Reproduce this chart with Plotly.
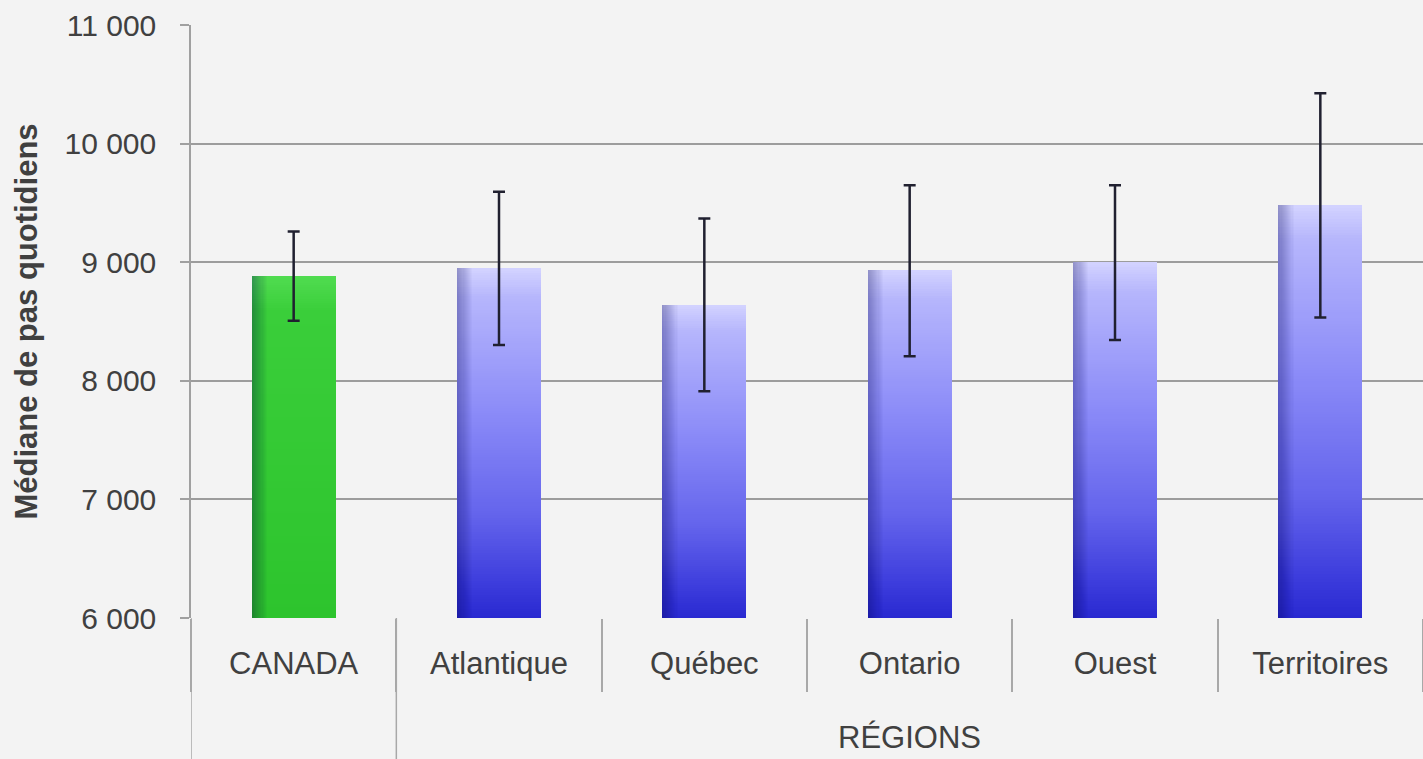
import plotly.graph_objects as go

# ---- data ----
categories = ["CANADA", "Atlantique", "Québec", "Ontario", "Ouest", "Territoires"]
medians = [8885, 8947, 8641, 8933, 8998, 9481]
upper = [9259, 9593, 9368, 9649, 9649, 10425]
lower = [8506, 8301, 7911, 8206, 8344, 8534]
group_label = "RÉGIONS"
y_ticks = [6000, 7000, 8000, 9000, 10000, 11000]
y_tick_text = ["6 000", "7 000", "8 000", "9 000", "10 000", "11 000"]
y_title = "Médiane de pas quotidiens"

BASE = 6000
FONT = "Liberation Sans, Arial, sans-serif"
TXT = "#404040"
GRID = "#9c9c9c"
BG = "#f3f3f3"

# gradient stops (t = 0 at top of bar, 1 at bottom)
blue_stops = [(0.0, (210, 210, 255)), (0.08, (182, 182, 252)), (0.4, (140, 140, 248)),
              (0.7, (100, 100, 236)), (0.9, (60, 60, 220)), (1.0, (40, 40, 208))]
green_stops = [(0.0, (80, 220, 80)), (0.1, (58, 206, 58)), (1.0, (45, 196, 45))]


def interp(stops, t):
    for (t0, c0), (t1, c1) in zip(stops[:-1], stops[1:]):
        if t0 <= t <= t1:
            f = (t - t0) / (t1 - t0) if t1 > t0 else 0
            c = [round(a + (b - a) * f) for a, b in zip(c0, c1)]
            return f"rgb({c[0]},{c[1]},{c[2]})"
    c = stops[-1][1]
    return f"rgb({c[0]},{c[1]},{c[2]})"


fig = go.Figure()

N = 150
BAR_W = 0.41
for k in range(N):
    t = k / N
    heights = [(v - BASE) * (1 - t) for v in medians]
    colors = [interp(green_stops if i == 0 else blue_stops, t) for i in range(len(categories))]
    fig.add_trace(go.Bar(
        x=categories, y=heights, base=[BASE] * len(categories),
        width=BAR_W, marker=dict(color=colors, line=dict(width=0)),
        hoverinfo="skip", showlegend=False,
    ))

# smooth left-edge shading for a bevelled look
M = 14
for j in range(M):
    w = 0.075 * (M - j) / M
    fig.add_trace(go.Bar(
        x=categories, y=[v - BASE for v in medians], base=[BASE] * len(categories),
        width=w, offset=-BAR_W / 2,
        marker=dict(color="rgba(20,20,90,0.022)", line=dict(width=0)),
        hoverinfo="skip", showlegend=False,
    ))

# error bars
fig.add_trace(go.Scatter(
    x=categories, y=medians, mode="markers",
    marker=dict(size=1, color="rgba(0,0,0,0)"),
    error_y=dict(type="data", symmetric=False,
                 array=[u - m for u, m in zip(upper, medians)],
                 arrayminus=[m - l for m, l in zip(medians, lower)],
                 color="#202030", thickness=2.5, width=6),
    hoverinfo="skip", showlegend=False,
))

n = len(categories)
shapes = []
# long group dividers (CANADA | RÉGIONS)
for xv in [-0.5, 0.5]:
    shapes.append(dict(type="line", xref="x", yref="paper", x0=xv, x1=xv, y0=0, y1=-0.3,
                       line=dict(color="#a8a8a8", width=1.5), layer="above"))

annotations = [dict(text=group_label, xref="x", yref="paper",
                    x=(1 + n - 1) / 2, y=-0.202, yanchor="middle", showarrow=False,
                    font=dict(family=FONT, size=31, color=TXT))]

fig.update_layout(
    width=1423, height=759,
    margin=dict(l=191, r=0, t=25, b=141),
    paper_bgcolor=BG, plot_bgcolor=BG,
    barmode="overlay", bargap=0,
    showlegend=False,
    hovermode=False,
    font=dict(family=FONT, color=TXT),
    shapes=shapes, annotations=annotations,
    xaxis=dict(
        type="category", range=[-0.5, n - 0.5],
        showgrid=False, showline=False, zeroline=False,
        ticks="outside", tickson="boundaries", ticklen=73, tickwidth=1.5, tickcolor="#a8a8a8",
        ticklabelstandoff=24,
        tickfont=dict(family=FONT, size=31, color=TXT),
    ),
    yaxis=dict(
        range=[6000, 11000], tickvals=y_ticks, ticktext=y_tick_text,
        showgrid=True, gridcolor=GRID, gridwidth=1.5,
        showline=True, linecolor="#a0a0a0", linewidth=1.5,
        ticks="outside", ticklen=9, tickcolor="#a0a0a0", tickwidth=1.5,
        zeroline=False,
        ticklabelstandoff=18,
        tickfont=dict(family=FONT, size=30, color=TXT),
        title=dict(text=y_title, font=dict(family=FONT, size=31, color=TXT, weight="bold"),
                   standoff=18),
    ),
)

fig.write_html("out.html", config={"displayModeBar": False})
